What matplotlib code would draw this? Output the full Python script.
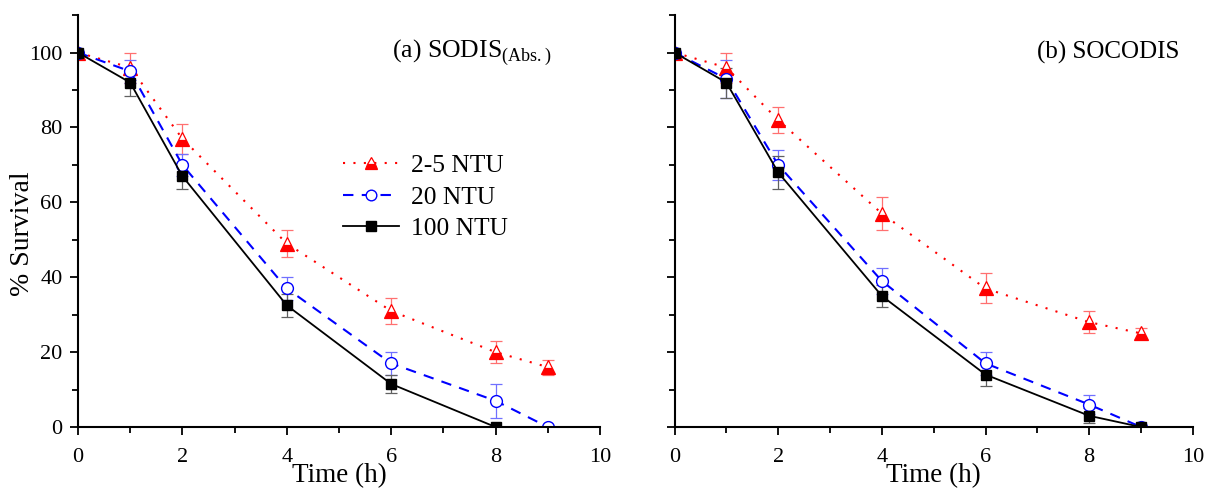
import matplotlib
matplotlib.use("Agg")
import matplotlib.pyplot as plt
from matplotlib.ticker import MultipleLocator

plt.rcParams['font.family'] = ['Liberation Serif', 'DejaVu Serif']
plt.rcParams['mathtext.fontset'] = 'custom'
plt.rcParams['mathtext.rm'] = 'Liberation Serif'

# Panel (a) SODIS(Abs.)
x_a_low = [0, 1, 2, 4, 6, 8, 9]
a_low = [100, 96, 77, 49, 31, 20, 16]
a_low_err = [0, 4, 4, 3.5, 3.5, 3, 2]
x_a_mid = [0, 1, 2, 4, 6, 8, 9]
a_mid = [100, 95, 70, 37, 17, 7, 0]
a_mid_err = [0, 3, 3, 3, 3, 4.5, 0]
x_a_high = [0, 1, 2, 4, 6, 8]
a_high = [100, 92, 67, 32.5, 11.5, 0]
a_high_err = [0, 3.5, 3.5, 3, 2.5, 0]

# Panel (b) SOCODIS
x_b_low = [0, 1, 2, 4, 6, 8, 9]
b_low = [100, 96, 82, 57, 37, 28, 25]
b_low_err = [0, 4, 3.5, 4.5, 4, 3, 1.5]
x_b_mid = [0, 1, 2, 4, 6, 8, 9]
b_mid = [100, 93, 70, 39, 17, 6, 0]
b_mid_err = [0, 5, 4, 3.5, 3, 2.5, 0]
x_b_high = [0, 1, 2, 4, 6, 8, 9]
b_high = [100, 92, 68, 35, 14, 3, 0]
b_high_err = [0, 4, 4.5, 3, 3, 2, 0]

labels = ["2-5 NTU", "20 NTU", "100 NTU"]

fig = plt.figure(figsize=(12.11, 4.88), dpi=100)
ax1 = fig.add_axes([0.0644, 0.125, 0.431, 0.844])
ax2 = fig.add_axes([0.557, 0.125, 0.428, 0.844])

def draw(ax, data):
    (xl, yl, el), (xm, ym, em), (xh, yh, eh) = data
    ax.errorbar(xl, yl, yerr=el, fmt='none', ecolor='#ff7070', elinewidth=0.9,
                capsize=4.5, capthick=0.9, zorder=2)
    ax.errorbar(xm, ym, yerr=em, fmt='none', ecolor='#7070ff', elinewidth=0.9,
                capsize=4.5, capthick=0.9, zorder=2)
    ax.errorbar(xh, yh, yerr=eh, fmt='none', ecolor='#606060', elinewidth=0.9,
                capsize=4.5, capthick=0.9, zorder=2)
    h1, = ax.plot(xl, yl, color='red', linestyle=(0, (1, 4)), linewidth=1.5,
                  marker='^', markersize=10, markerfacecolor='red',
                  markerfacecoloralt='white', fillstyle='bottom',
                  markeredgecolor='red', markeredgewidth=0.9, zorder=3, label=labels[0])
    h2, = ax.plot(xm, ym, color='blue', linestyle=(0, (5, 4)), linewidth=1.5,
                  marker='o', markersize=8.5, markerfacecolor='white',
                  markeredgecolor='blue', markeredgewidth=1.0, zorder=4, label=labels[1])
    h3, = ax.plot(xh, yh, color='black', linestyle='-', linewidth=1.3,
                  marker='s', markersize=7.5, markerfacecolor='black',
                  markeredgecolor='black', zorder=5, label=labels[2])
    ax.set_xlim(0, 10)
    ax.set_ylim(0, 110)
    ax.xaxis.set_major_locator(MultipleLocator(2))
    ax.xaxis.set_minor_locator(MultipleLocator(1))
    ax.yaxis.set_major_locator(MultipleLocator(20))
    ax.yaxis.set_minor_locator(MultipleLocator(10))
    ax.spines['top'].set_visible(False)
    ax.spines['right'].set_visible(False)
    ax.spines['left'].set_linewidth(1.5)
    ax.spines['bottom'].set_linewidth(1.5)
    ax.tick_params(which='major', direction='out', length=6, width=1.3, labelsize=16)
    ax.tick_params(which='minor', direction='out', length=4, width=1.3)
    ax.tick_params(axis='x', which='major', pad=9)
    ax.tick_params(axis='y', which='major', pad=5)
    ax.set_xlabel("Time (h)", fontsize=19.5, labelpad=-3)
    for sp in ax.spines.values():
        sp.set_zorder(6)
    return h1, h2, h3

handles = draw(ax1, [(x_a_low, a_low, a_low_err), (x_a_mid, a_mid, a_mid_err),
                     (x_a_high, a_high, a_high_err)])
draw(ax2, [(x_b_low, b_low, b_low_err), (x_b_mid, b_mid, b_mid_err),
           (x_b_high, b_high, b_high_err)])

ax2.tick_params(labelleft=False)
ax1.set_ylabel("% Survival", fontsize=20)
ax1.yaxis.set_label_coords(-0.083, 0.47)

ax1.text(7.55, 100, r"(a) SODIS$_{\mathrm{(Abs.)}}$", fontsize=18.5, ha='center', va='center')
ax2.text(8.36, 100, "(b) SOCODIS", fontsize=18, ha='center', va='center')

ax1.legend(handles=handles, loc='upper left', bbox_to_anchor=(0.508, 0.662),
           frameon=False, fontsize=18.4, handlelength=2.2, handletextpad=0.45,
           labelspacing=0.33, markerscale=0.9, borderaxespad=0, borderpad=0)

fig.savefig("out.png", dpi=100)
